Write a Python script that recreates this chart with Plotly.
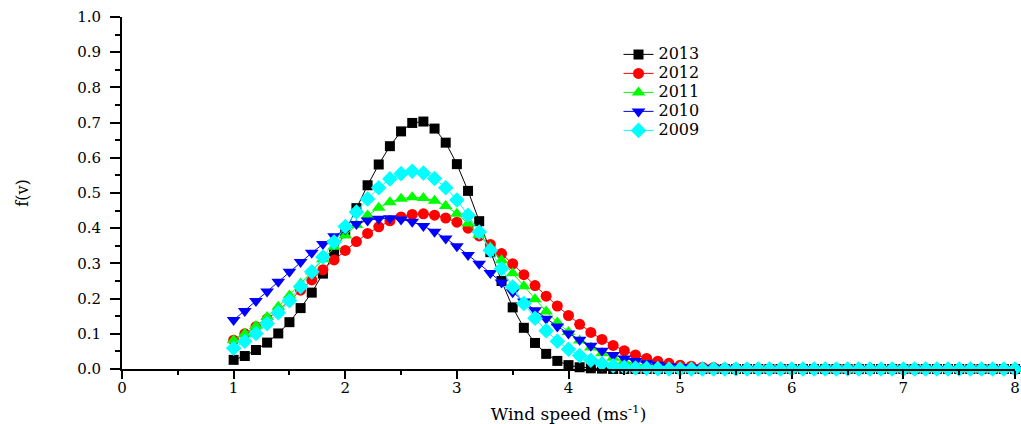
import plotly.graph_objects as go

# Wind speed grid (m/s), 0.1 m/s bins from 1.0 to 8.0
wind_speed = [round(1.0 + 0.1 * i, 1) for i in range(71)]

# Probability density f(v) for each year
f_2013 = [0.026, 0.037, 0.054, 0.075, 0.101, 0.133, 0.173, 0.217, 0.271, 0.328,
          0.390, 0.457, 0.522, 0.581, 0.633, 0.675, 0.699, 0.703, 0.683, 0.643,
          0.582, 0.506, 0.420, 0.332, 0.250, 0.175, 0.117, 0.074, 0.043, 0.023,
          0.011, 0.005, 0.002, 0.001] + [0.0] * 37

f_2012 = [0.082, 0.100, 0.120, 0.142, 0.166, 0.194, 0.224, 0.253, 0.282, 0.310,
          0.337, 0.362, 0.385, 0.404, 0.421, 0.432, 0.439, 0.441, 0.437, 0.429,
          0.417, 0.400, 0.378, 0.354, 0.328, 0.299, 0.268, 0.237, 0.207, 0.179,
          0.152, 0.127, 0.104, 0.084, 0.067, 0.052, 0.040, 0.030, 0.022, 0.016,
          0.011, 0.008, 0.005, 0.004, 0.002, 0.002, 0.001, 0.001] + [0.0] * 23

f_2011 = [0.082, 0.100, 0.122, 0.148, 0.177, 0.209, 0.243, 0.277, 0.312, 0.347,
          0.379, 0.409, 0.436, 0.458, 0.474, 0.484, 0.488, 0.486, 0.478, 0.463,
          0.441, 0.413, 0.381, 0.345, 0.309, 0.272, 0.235, 0.198, 0.163, 0.132,
          0.105, 0.081, 0.061, 0.045, 0.032, 0.022, 0.015, 0.010, 0.006, 0.004,
          0.002, 0.001, 0.001] + [0.0] * 28

f_2010 = [0.139, 0.165, 0.193, 0.220, 0.248, 0.276, 0.304, 0.330, 0.355, 0.377,
          0.397, 0.412, 0.422, 0.427, 0.428, 0.425, 0.418, 0.406, 0.390, 0.371,
          0.349, 0.324, 0.299, 0.273, 0.246, 0.218, 0.192, 0.167, 0.143, 0.121,
          0.101, 0.083, 0.066, 0.052, 0.040, 0.030, 0.023, 0.016, 0.012, 0.008,
          0.006, 0.004, 0.003, 0.002, 0.001, 0.001] + [0.0] * 25

f_2009 = [0.059, 0.079, 0.101, 0.129, 0.160, 0.194, 0.234, 0.276, 0.318, 0.361,
          0.405, 0.446, 0.483, 0.515, 0.540, 0.555, 0.562, 0.557, 0.541, 0.515,
          0.480, 0.437, 0.389, 0.337, 0.285, 0.233, 0.186, 0.144, 0.109, 0.079,
          0.056, 0.038, 0.025, 0.015, 0.009, 0.005, 0.003, 0.002, 0.001] + [0.0] * 32

years = ["2013", "2012", "2011", "2010", "2009"]
series = [f_2013, f_2012, f_2011, f_2010, f_2009]
colors = ["#000000", "#FF0000", "#00FF00", "#0000FF", "#00FFFF"]
symbols = ["square", "circle", "triangle-up", "triangle-down", "diamond"]
sizes = [10, 11, 12, 12, 12]

FONT = "DejaVu Serif"

fig = go.Figure()
for name, ys, col, sym, sz in zip(years, series, colors, symbols, sizes):
    fig.add_trace(go.Scatter(
        x=wind_speed, y=ys, mode="lines+markers",
        # small legend font keeps rows tight; the label itself is drawn larger
        name=f'<span style="font-size:16px">{name}</span>',
        line=dict(color=col, width=1),
        marker=dict(symbol=sym, size=sz, color=col, line=dict(width=0)),
        cliponaxis=False,
    ))

axis_common = dict(
    showgrid=False, zeroline=False, showline=True, linecolor="black", linewidth=2,
    ticks="outside", tickwidth=1.5, tickcolor="black",
    tickfont=dict(family=FONT, size=15, color="black"),
)

fig.update_xaxes(
    range=[0, 8], dtick=1, tick0=0, ticklen=8,
    minor=dict(dtick=0.5, ticks="outside", ticklen=4, tickwidth=1.5, tickcolor="black"),
    ticklabelstandoff=-4,
    title=dict(text="Wind speed (ms<sup>-1</sup>)", font=dict(family=FONT, size=17, color="black"),
               standoff=12),
    **axis_common,
)
fig.update_yaxes(
    range=[0, 1.0], dtick=0.1, tick0=0, tickformat=".1f", ticklen=10,
    minor=dict(dtick=0.05, ticks="outside", ticklen=5, tickwidth=1.5, tickcolor="black"),
    ticklabelstandoff=6,
    title=dict(text="f(v)", font=dict(family=FONT, size=16, color="black"), standoff=45),
    **axis_common,
)

fig.update_layout(
    width=1021, height=424,
    margin=dict(l=122, r=6, t=17, b=55, autoexpand=False),
    paper_bgcolor="white", plot_bgcolor="white",
    showlegend=True,
    legend=dict(x=0.556, y=0.935, xanchor="left", yanchor="top",
                font=dict(family=FONT, size=11.3, color="black"),
                bgcolor="rgba(0,0,0,0)", itemwidth=30),
)

fig.write_html("out.html")
